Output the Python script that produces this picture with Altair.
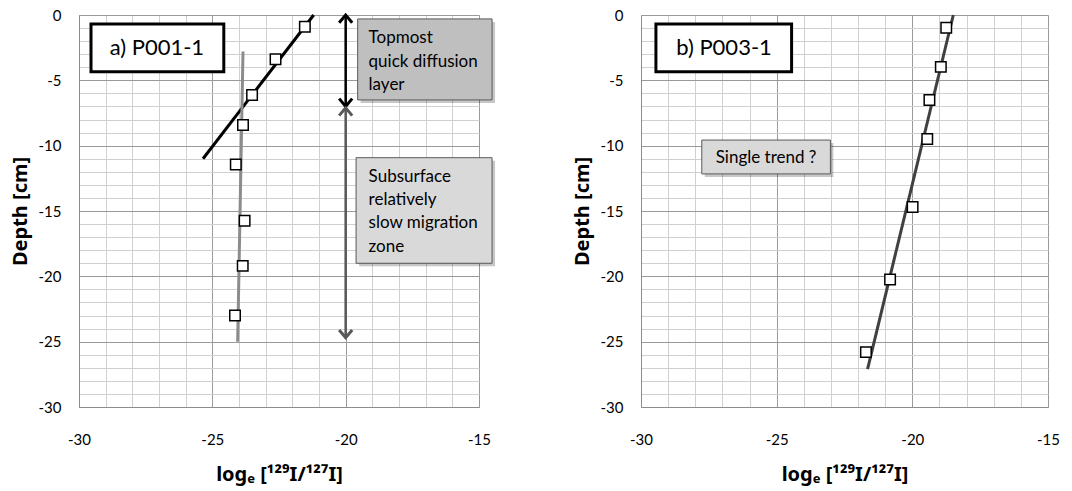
import altair as alt
import pandas as pd

# ---------------- data ----------------
# Panel a) P001-1 measured points
a_x = [-21.53, -22.63, -23.51, -23.85, -24.12, -23.79, -23.86, -24.15]
a_y = [-0.9, -3.39, -6.12, -8.42, -11.45, -15.74, -19.2, -23.0]
# trend lines panel a
a_fast_x = [-25.35, -21.2]
a_fast_y = [-11.0, 0.0]
a_slow_x = [-23.85, -24.05]
a_slow_y = [-2.8, -25.0]

# Panel b) P003-1 measured points
b_x = [-18.75, -18.95, -19.37, -19.45, -19.99, -20.82, -21.71]
b_y = [-0.97, -3.97, -6.5, -9.49, -14.7, -20.25, -25.8]
b_trend_x = [-18.49, -21.65]
b_trend_y = [0.0, -27.1]

# annotation texts
panel_titles = ["a) P001-1", "b) P003-1"]
note_top = "Topmost\nquick diffusion\nlayer"
note_sub = "Subsurface\nrelatively\nslow migration\nzone"
note_b = "Single trend ?"

x_ticks = list(range(-30, -14))
y_ticks = list(range(-30, 1))

FONT = "Lato"
X_TITLE = "logₑ [¹²⁹I/¹²⁷I]"

grid_color = {"condition": {"test": "datum.value % 5 === 0", "value": "#9a9a9a"}, "value": "#d0d0d0"}

XAXIS = alt.Axis(values=x_ticks, grid=True, gridColor=grid_color, gridWidth=1,
                 labelExpr="datum.value % 5 === 0 ? '' + datum.value : ''",
                 labelOverlap=False, labelFlush=False, title=X_TITLE)
YAXIS = alt.Axis(values=y_ticks, grid=True, gridColor=grid_color, gridWidth=1,
                 labelExpr="datum.value % 5 === 0 ? '' + datum.value : ''",
                 labelOverlap=False, labelFlush=False, title="Depth [cm]")
XSCALE = alt.Scale(domain=[-30, -15], nice=False, zero=False)
YSCALE = alt.Scale(domain=[-30, 0], nice=False, zero=False)


def fx(field):
    return alt.X(field, type="quantitative", scale=XSCALE, axis=XAXIS)


def fy(field):
    return alt.Y(field, type="quantitative", scale=YSCALE, axis=YAXIS)


def dx(v):
    return alt.XDatum(v, type="quantitative", scale=XSCALE, axis=XAXIS)


def dy(v):
    return alt.YDatum(v, type="quantitative", scale=YSCALE, axis=YAXIS)


def dx2(v):
    return alt.X2Datum(v)


def dy2(v):
    return alt.Y2Datum(v)


def points(xs, ys):
    df = pd.DataFrame({"x": xs, "y": ys})
    return alt.Chart(df).mark_point(shape="square", filled=True, fill="white", stroke="black",
                                    strokeWidth=1.5, size=110, opacity=1).encode(
        x=fx("x"), y=fy("y"))


def line(xs, ys, color, width=3):
    df = pd.DataFrame({"x": xs, "y": ys})
    return alt.Chart(df).mark_line(color=color, strokeWidth=width, strokeCap="butt").encode(
        x=fx("x"), y=fy("y"))


def box(x, x2, y, y2, fill, stroke="#595959", sw=1, shadow=True):
    layers = []
    if shadow:
        layers.append(alt.Chart().mark_rect(color="#000000", opacity=0.22, xOffset=3, x2Offset=3,
                                            yOffset=3, y2Offset=3).encode(
            x=dx(x), x2=dx2(x2), y=dy(y), y2=dy2(y2)))
    layers.append(alt.Chart().mark_rect(fill=fill, stroke=stroke, strokeWidth=sw).encode(
        x=dx(x), x2=dx2(x2), y=dy(y), y2=dy2(y2)))
    return layers


def text(x, y, s, size=17, align="left"):
    return alt.Chart().mark_text(text=s, font=FONT, fontSize=size, align=align, baseline="middle",
                                 lineBreak="\n", lineHeight=23.3, color="black").encode(
        x=dx(x), y=dy(y))


def chevron(x, y, up, color, size=170):
    path = "M-1,1.2L0,0L1,1.2" if up else "M-1,-1.2L0,0L1,-1.2"
    return alt.Chart().mark_point(shape=path, size=size, filled=False, stroke=color,
                                  strokeWidth=3, opacity=1).encode(
        x=dx(x), y=dy(y))


def vrule(x, y1, y2, color):
    return alt.Chart().mark_rule(color=color, strokeWidth=2.5).encode(
        x=dx(x), y=dy(y1), y2=dy2(y2))


# ---------------- panel a ----------------
pa_layers = [line(a_fast_x, a_fast_y, "black"), line(a_slow_x, a_slow_y, "#8c8c8c")]
pa_layers += [vrule(-20.0, 0.0, -7.0, "black"), chevron(-20.0, 0.0, True, "black"),
              chevron(-20.0, -7.0, False, "black"),
              vrule(-20.0, -7.1, -24.7, "#595959"), chevron(-20.0, -7.1, True, "#595959"),
              chevron(-20.0, -24.7, False, "#595959")]
pa_layers += box(-19.55, -14.51, -0.3, -6.5, "#bfbfbf")
pa_layers += [text(-19.14, -1.78, note_top)]
pa_layers += box(-19.61, -14.51, -10.92, -19.0, "#d9d9d9")
pa_layers += [text(-19.14, -12.37, note_sub)]
pa_layers += box(-29.55, -24.57, -0.69, -4.34, "white", stroke="black", sw=3, shadow=False)
pa_layers += [text(-27.08, -2.52, panel_titles[0], size=22, align="center")]
pa_layers += [points(a_x, a_y)]
panel_a = alt.layer(*pa_layers).properties(width=400, height=392)

# ---------------- panel b ----------------
pb_layers = [line(b_trend_x, b_trend_y, "#404040")]
pb_layers += box(-27.76, -23.02, -9.57, -12.16, "#d9d9d9")
pb_layers += [text(-25.39, -10.92, note_b, size=17, align="center")]
pb_layers += box(-29.45, -24.45, -0.69, -4.34, "white", stroke="black", sw=3, shadow=False)
pb_layers += [text(-26.94, -2.52, panel_titles[1], size=22, align="center")]
pb_layers += [points(b_x, b_y)]
panel_b = alt.layer(*pb_layers).properties(width=407, height=392)

chart = alt.hconcat(panel_a, panel_b, spacing=75).properties(
    padding={"left": 9, "top": 7, "right": 2, "bottom": 5},
    background="white",
).configure_view(stroke="#8c8c8c", strokeWidth=1).configure(font=FONT).configure_axis(
    ticks=False, labelFontSize=15, labelColor="black", labelFont=FONT, domainColor="#8c8c8c",
    titleFontSize=20, titleFontWeight="bold", titleFont="Noto Sans", titleColor="black",
).configure_axisX(labelPadding=25, titlePadding=17).configure_axisY(labelPadding=18, titlePadding=8)

chart.save("out.html", embed_options={"renderer": "svg", "actions": False})
